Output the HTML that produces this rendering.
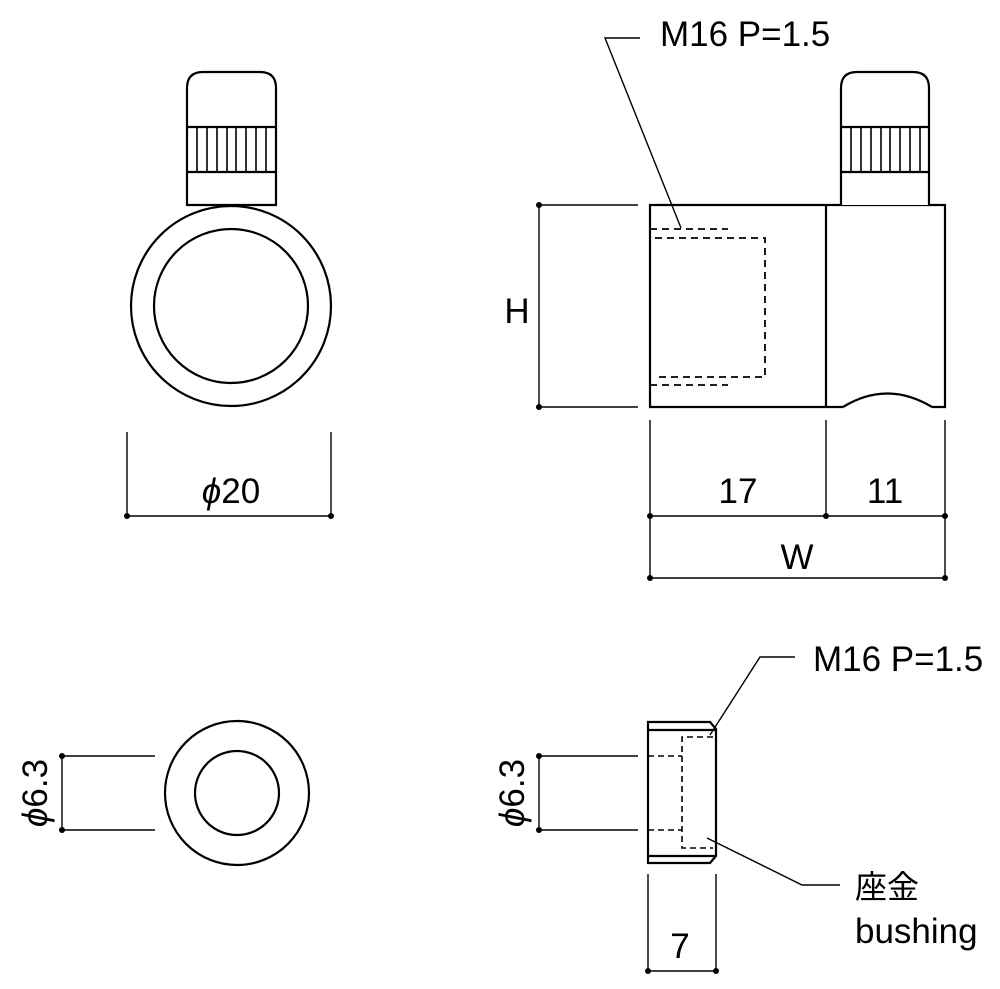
<!DOCTYPE html>
<html><head><meta charset="utf-8"><style>
html,body{margin:0;padding:0;background:#fff;}
svg{display:block;}
text{font-family:"Liberation Sans","Noto Sans CJK JP",sans-serif;fill:#000;}
</style></head><body>
<svg width="1000" height="989" viewBox="0 0 1000 989" xmlns="http://www.w3.org/2000/svg">
<g fill="none" stroke="#000" stroke-width="2.2">
<circle cx="231" cy="306" r="100"/>
<circle cx="231" cy="306" r="77"/>
<path d="M187 205 V88 Q187 72 203 72 H260 Q276 72 276 88 V205 Z" fill="#fff"/>
<line x1="187" y1="127" x2="276" y2="127"/>
<line x1="187" y1="172" x2="276" y2="172"/>
<g stroke-width="1.6">
<line x1="197" y1="127" x2="197" y2="172"/><line x1="207" y1="127" x2="207" y2="172"/>
<line x1="217" y1="127" x2="217" y2="172"/><line x1="227" y1="127" x2="227" y2="172"/>
<line x1="236" y1="127" x2="236" y2="172"/><line x1="246" y1="127" x2="246" y2="172"/>
<line x1="256" y1="127" x2="256" y2="172"/><line x1="266" y1="127" x2="266" y2="172"/>
</g>
<g stroke-width="1.4">
<line x1="127" y1="432" x2="127" y2="516"/><line x1="331" y1="432" x2="331" y2="516"/>
<line x1="127" y1="516" x2="331" y2="516"/>
</g>
<path d="M932 407 H945 V205 H650 V407 H843"/>
<line x1="826" y1="205" x2="826" y2="407"/>
<path d="M841 205 V88 Q841 72 857 72 H913 Q929 72 929 88 V205" fill="#fff"/>
<line x1="841" y1="127" x2="929" y2="127"/>
<line x1="841" y1="172" x2="929" y2="172"/>
<g stroke-width="1.6">
<line x1="851" y1="127" x2="851" y2="172"/><line x1="861" y1="127" x2="861" y2="172"/>
<line x1="871" y1="127" x2="871" y2="172"/><line x1="881" y1="127" x2="881" y2="172"/>
<line x1="890" y1="127" x2="890" y2="172"/><line x1="900" y1="127" x2="900" y2="172"/>
<line x1="910" y1="127" x2="910" y2="172"/><line x1="920" y1="127" x2="920" y2="172"/>
</g>
<path d="M843 407 Q887 380 932 407"/>
<g stroke-dasharray="7,5" stroke-width="1.8">
<line x1="650" y1="229" x2="728" y2="229"/>
<polyline points="655,238 765,238 765,377 655,377"/>
<line x1="650" y1="385" x2="728" y2="385"/>
</g>
<g stroke-width="1.4">
<polyline points="681,228 605,38 640,38"/>
<line x1="539" y1="205" x2="638" y2="205"/><line x1="539" y1="407" x2="638" y2="407"/>
<line x1="539" y1="205" x2="539" y2="407"/>
<line x1="650" y1="420" x2="650" y2="578"/><line x1="826" y1="420" x2="826" y2="516"/>
<line x1="945" y1="420" x2="945" y2="578"/>
<line x1="650" y1="516" x2="945" y2="516"/><line x1="650" y1="578" x2="945" y2="578"/>
</g>
<circle cx="237" cy="793" r="72"/>
<circle cx="237" cy="793" r="42"/>
<g stroke-width="1.4">
<line x1="62" y1="756" x2="155" y2="756"/><line x1="62" y1="830" x2="155" y2="830"/>
<line x1="62" y1="756" x2="62" y2="830"/>
</g>
<path d="M648 722 H710 L716 729 V856 L710 863 H648 Z"/>
<line x1="648" y1="730" x2="716" y2="730"/>
<line x1="648" y1="856" x2="716" y2="856"/>
<g stroke-dasharray="6,4" stroke-width="1.6">
<polyline points="713,737 682,737 682,848 713,848"/>
<line x1="648" y1="756" x2="682" y2="756"/>
<line x1="648" y1="830" x2="682" y2="830"/>
</g>
<g stroke-width="1.4">
<line x1="539" y1="756" x2="638" y2="756"/><line x1="539" y1="830" x2="638" y2="830"/>
<line x1="539" y1="756" x2="539" y2="830"/>
<line x1="648" y1="874" x2="648" y2="971"/><line x1="716" y1="874" x2="716" y2="971"/>
<line x1="648" y1="971" x2="716" y2="971"/>
<polyline points="710,735 760,657 795,657"/>
<polyline points="707,838 802,885 840,885"/>
</g>
</g>
<g fill="#000">
<circle cx="127" cy="516" r="3"/><circle cx="331" cy="516" r="3"/>
<circle cx="539" cy="205" r="3"/><circle cx="539" cy="407" r="3"/>
<circle cx="650" cy="516" r="3"/><circle cx="826" cy="516" r="3"/><circle cx="945" cy="516" r="3"/>
<circle cx="650" cy="578" r="3"/><circle cx="945" cy="578" r="3"/>
<circle cx="62" cy="756" r="3"/><circle cx="62" cy="830" r="3"/>
<circle cx="539" cy="756" r="3"/><circle cx="539" cy="830" r="3"/>
<circle cx="648" cy="971" r="3"/><circle cx="716" cy="971" r="3"/>
</g>
<g font-size="35">
<text x="231" y="503" text-anchor="middle"><tspan font-style="italic">ϕ</tspan>20</text>
<text x="660" y="46">M16 P=1.5</text>
<text x="517" y="323" text-anchor="middle">H</text>
<text x="738" y="503" text-anchor="middle">17</text>
<text x="885" y="503" text-anchor="middle">11</text>
<text x="797" y="569" text-anchor="middle">W</text>
<text x="813" y="671">M16 P=1.5</text>
<text x="855" y="898" font-size="32">座金</text>
<text x="855" y="943">bushing</text>
<text x="680" y="958" text-anchor="middle">7</text>
<text transform="translate(47,793) rotate(-90)" text-anchor="middle"><tspan font-style="italic">ϕ</tspan>6.3</text>
<text transform="translate(524,793) rotate(-90)" text-anchor="middle"><tspan font-style="italic">ϕ</tspan>6.3</text>
</g>
</svg>
</body></html>
